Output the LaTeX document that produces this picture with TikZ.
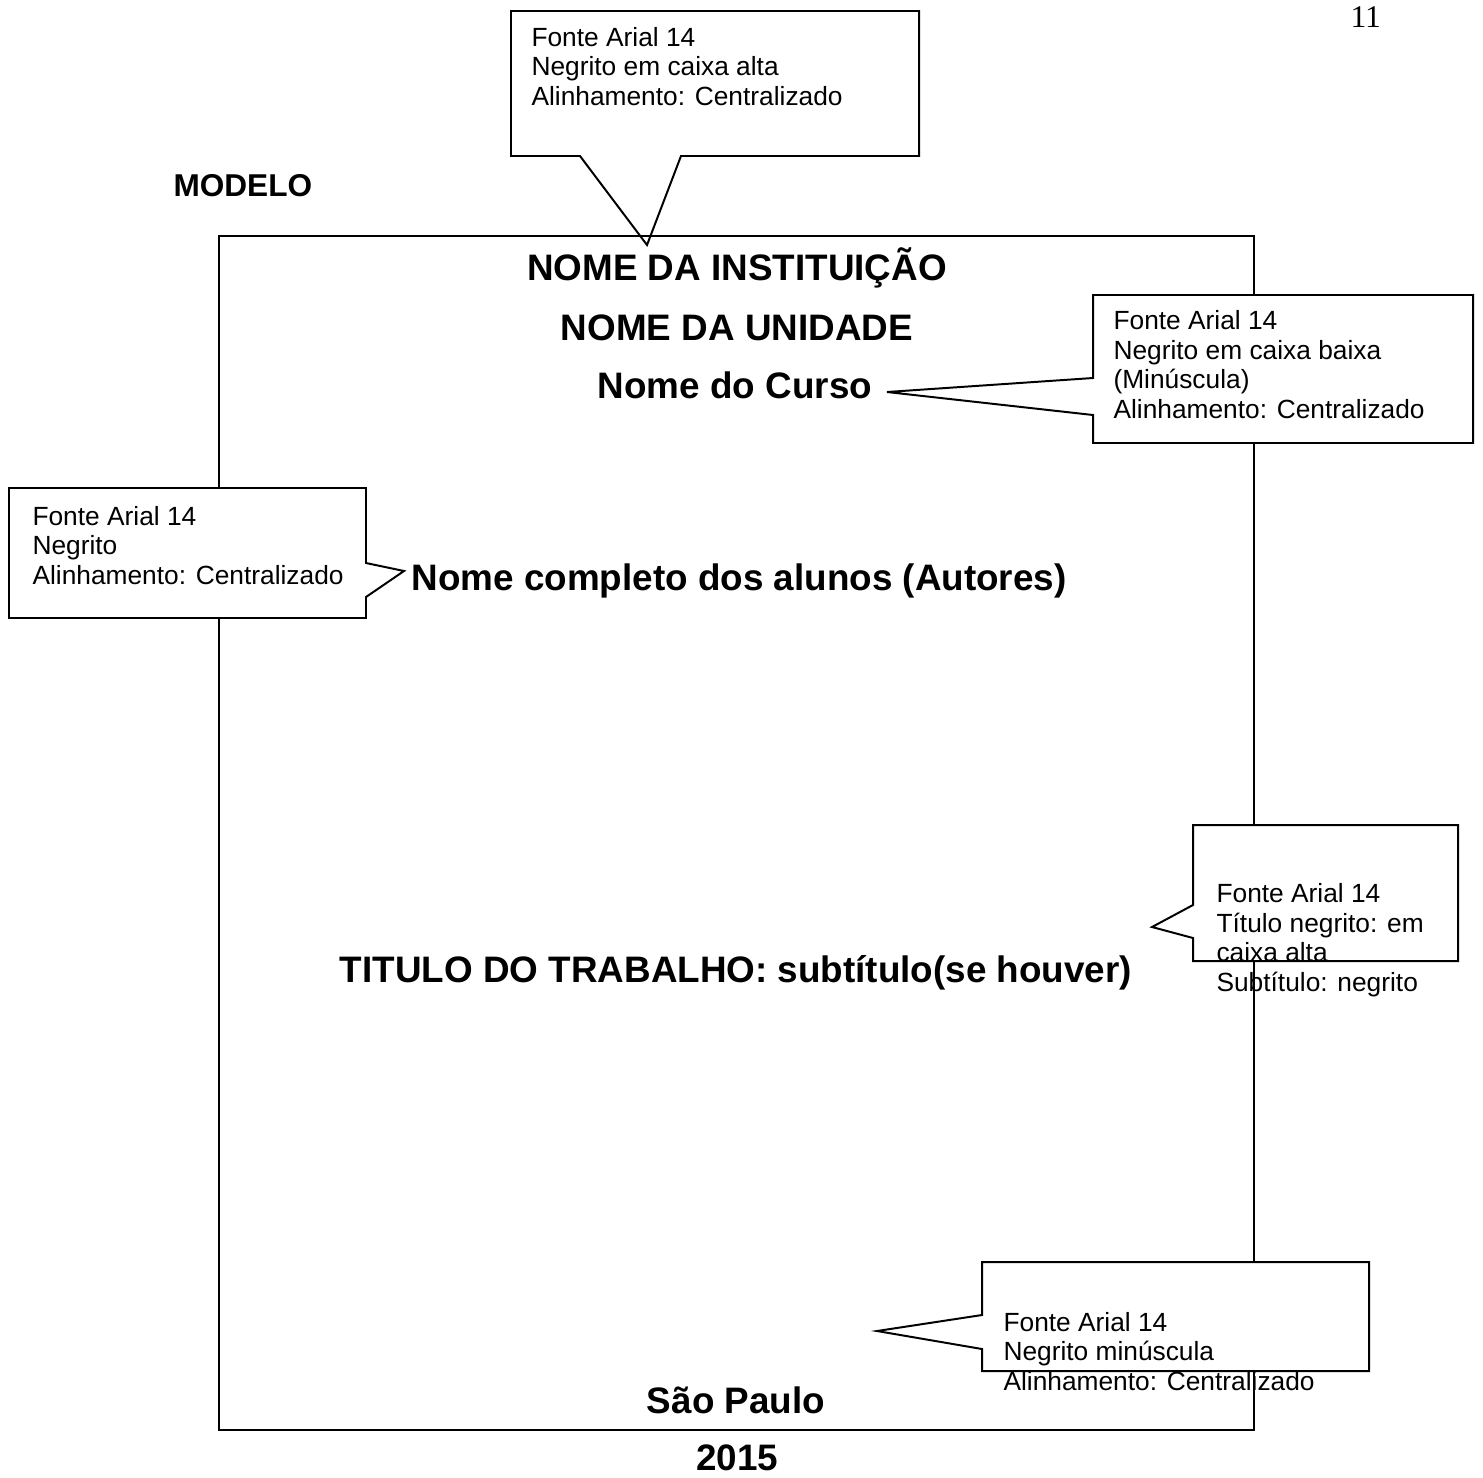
\documentclass[tikz,border=0pt]{standalone}
\usepackage{fontspec}
\setmainfont{Liberation Sans}
\newfontfamily\timesfont{Liberation Serif}
\usepackage{tikz}

\tikzset{
  moldura/.style={line width=1pt},
  balao/.style={line width=0.75pt, fill=white, line join=miter},
  titulo/.style={font=\fontsize{14}{16}\selectfont\bfseries, inner sep=0pt, anchor=base},
  nota/.style={font=\fontsize{10}{11.2}\selectfont, align=left, inner sep=0pt, anchor=base west}
}

\begin{document}
\begin{tikzpicture}[x=0.38pt, y=-0.38pt]
    \useasboundingbox (0,0) rectangle (1483,1477);

    % balao do topo
    \draw[balao] (511,11) -- (919,11) -- (919,156) -- (681,156) -- (647,245) -- (580,156) -- (511,156) -- cycle;

    % moldura da capa
    \draw[moldura] (219,236) rectangle (1254,1430);

    % baloes laterais
    \draw[balao] (1093,295) -- (1473,295) -- (1473,443) -- (1093,443) -- (1093,415) -- (887,392) -- (1093,378) -- cycle;
    \draw[balao] (9,488) -- (366,488) -- (366,563) -- (404,571) -- (366,597) -- (366,618) -- (9,618) -- cycle;
    \draw[balao] (1193,825) -- (1458,825) -- (1458,961) -- (1193,961) -- (1193,938) -- (1152,927) -- (1193,905) -- cycle;
    \draw[balao] (982,1262) -- (1369,1262) -- (1369,1371) -- (982,1371) -- (982,1349) -- (877,1331) -- (982,1315) -- cycle;

    \node[inner sep=0pt, anchor=base west, font=\timesfont\fontsize{12}{14}\selectfont] (pagina) at (1350,27) {11};
    \node[inner sep=0pt, anchor=base west, font=\fontsize{12}{14}\selectfont\bfseries] (modelo) at (173,196) {MODELO};

    \node[titulo] (instituicao) at (737,280) {NOME DA INSTITUIÇÃO};
    \node[titulo] (unidade) at (737,340) {NOME DA UNIDADE};
    \node[titulo] (curso) at (735,398) {Nome do Curso};
    \node[titulo] (alunos) at (739,590) {Nome completo dos alunos (Autores)};
    \node[titulo] (trabalho) at (736,982) {TITULO DO TRABALHO: subtítulo(se houver)};
    \node[titulo] (cidade) at (736,1413) {São Paulo};
    \node[titulo] (ano) at (737,1470) {2015};

    % notas: ancora na linha de base da ultima linha
    \node[nota] (notaInst) at (531,105) {Fonte Arial 14\\Negrito em caixa alta\\Alinhamento: Centralizado};
    \node[nota] (notaCurso) at (1113,418) {Fonte Arial 14\\Negrito em caixa baixa\\(Minúscula)\\Alinhamento: Centralizado};
    \node[nota] (notaAlunos) at (32,584) {Fonte Arial 14\\Negrito\\Alinhamento: Centralizado};
    \node[nota] (notaTrabalho) at (1216,991) {Fonte Arial 14\\Título negrito: em\\caixa alta\\Subtítulo: negrito};
    \node[nota] (notaCidade) at (1003,1390) {Fonte Arial 14\\Negrito minúscula\\Alinhamento: Centralizado};

\end{tikzpicture}
\end{document}
